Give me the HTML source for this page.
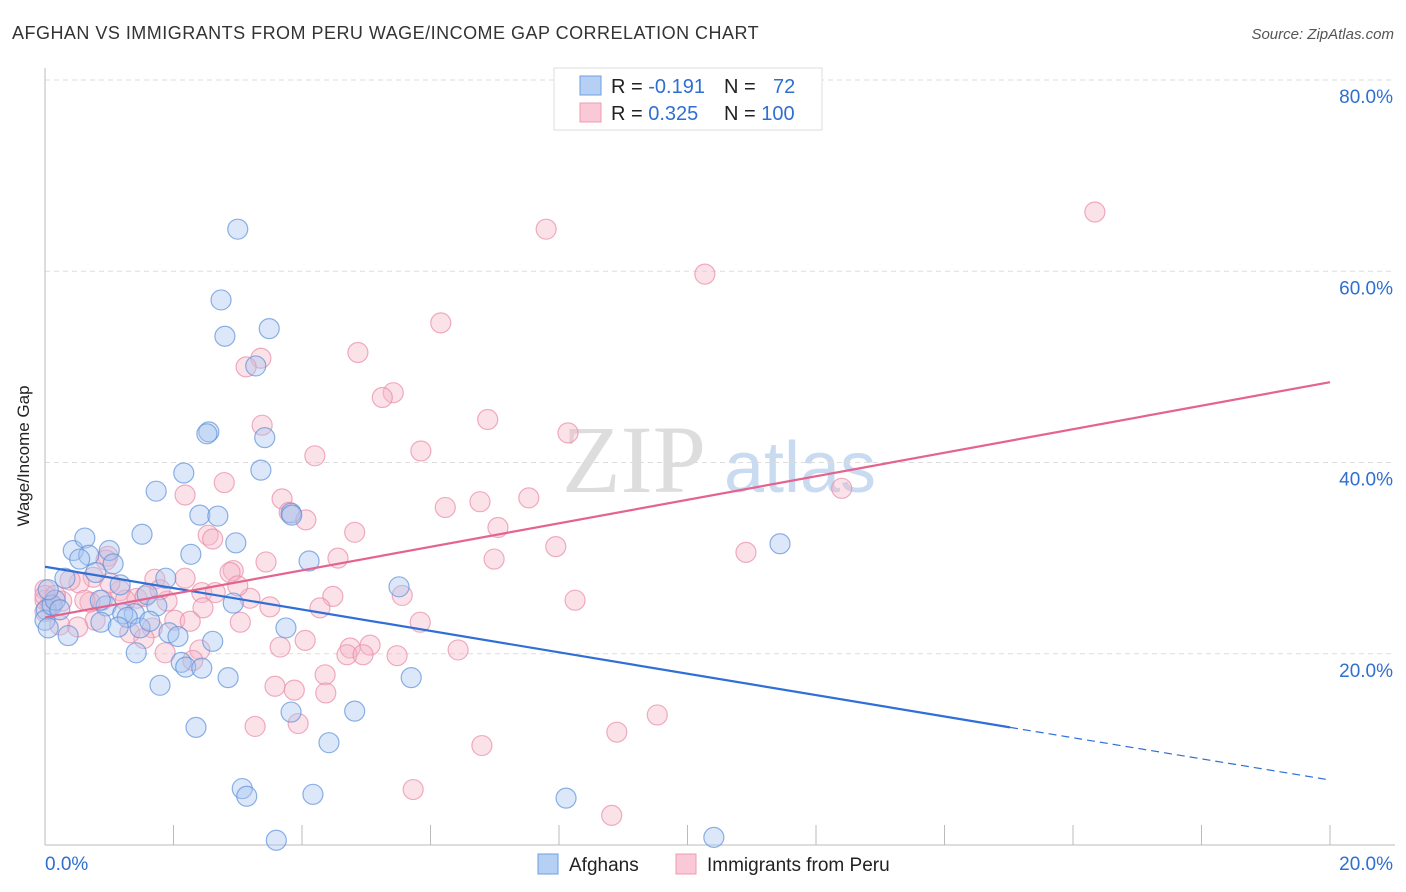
<!DOCTYPE html>
<html><head><meta charset="utf-8"><style>
body{margin:0;background:#fff;font-family:"Liberation Sans",sans-serif;}
svg{display:block}
</style></head><body>
<svg id="chart" width="1406" height="892">
<text x="12" y="39" font-size="18" fill="#333" letter-spacing="0.48">AFGHAN VS IMMIGRANTS FROM PERU WAGE/INCOME GAP CORRELATION CHART</text>
<text x="1394" y="39" font-size="15" fill="#555" font-style="italic" text-anchor="end">Source: ZipAtlas.com</text>
<text x="29" y="456" font-size="17" fill="#222" text-anchor="middle" transform="rotate(-90 29 456)">Wage/Income Gap</text>
<g><text x="634" y="492" font-size="96" font-family="Liberation Serif,serif" fill="#ddd" text-anchor="middle">ZIP</text><text x="800" y="492" font-size="72" fill="#c9dbf0" text-anchor="middle">atlas</text></g>
<g id="grid"></g><g id="axes"></g><g id="pts"></g><g id="trends"></g>
<g>
<rect x="554" y="68" width="268" height="62" fill="#fff" stroke="#ddd"/>
<rect x="580" y="76" width="21" height="19" fill="#b6d0f3" stroke="#6e9fe0"/>
<rect x="580" y="103" width="21" height="19" fill="#f9c9d7" stroke="#ee9bb3"/>
<text x="611" y="93" font-size="20" fill="#222">R = <tspan fill="#2f6fd0">-0.191</tspan></text>
<text x="724" y="93" font-size="20" fill="#222">N = <tspan fill="#2f6fd0" x="773">72</tspan></text>
<text x="611" y="120" font-size="20" fill="#222">R = <tspan fill="#2f6fd0"> 0.325</tspan></text>
<text x="724" y="120" font-size="20" fill="#222">N = <tspan fill="#2f6fd0">100</tspan></text>
</g>
<g>
<rect x="538" y="854" width="20" height="20" fill="#b6d0f3" stroke="#6e9fe0"/>
<text x="569" y="871" font-size="19" fill="#222">Afghans</text>
<rect x="676" y="854" width="20" height="20" fill="#f9c9d7" stroke="#ee9bb3"/>
<text x="707" y="871" font-size="19" fill="#222">Immigrants from Peru</text>
</g>
</svg>
<script>
const xTicks=[0,2,4,6,8,10,12,14,16,18,20];
const yTicks=[20,40,60,80];
const xLabels=["0.0%","20.0%"];
const blueX=[3.00,2.74,2.80,3.49,3.28,2.55,2.52,3.42,2.16,3.36,1.73,1.51,2.41,2.69,2.97,3.83,3.84,4.11,2.27,0.44,0.62,0.68,1.00,0.54,1.06,0.31,0.79,1.17,1.88,1.59,1.74,0.95,1.39,1.21,1.28,2.93,5.51,0.02,0,0.11,0.36,0.87,1.14,1.48,1.63,1.93,2.07,2.61,1.42,2.12,2.19,2.44,3.75,1.79,2.85,5.70,2.35,3.83,4.82,4.42,3.07,3.14,4.17,8.11,3.60,10.41,11.44,0.05,0.16,0.05,0.86,0.23];
const blueY=[64.4,57.0,53.2,54.0,50.1,43.2,43.0,42.6,38.9,39.2,37.0,32.5,34.5,34.4,31.6,34.7,34.5,29.7,30.4,30.8,32.1,30.3,30.8,29.9,29.4,27.9,28.5,27.2,27.9,26.2,25.0,25.0,24.2,24.2,23.8,25.3,27.0,24.6,23.5,25.1,21.9,23.3,22.8,22.7,23.4,22.2,21.8,21.3,20.1,19.1,18.6,18.5,22.7,16.7,17.5,17.5,12.3,13.9,14.0,10.7,5.9,5.1,5.3,4.9,0.5,0.8,31.5,22.7,25.6,26.7,25.6,24.6];
const pinkX=[16.34,7.80,10.27,6.16,4.87,3.36,3.13,5.42,5.25,3.38,6.89,8.14,5.85,4.20,12.40,2.18,2.79,3.69,7.53,6.77,6.23,3.80,4.06,2.54,2.61,4.82,7.05,7.95,10.91,6.99,4.56,3.44,2.93,2.88,2.18,1.71,0.98,0.95,0.75,0.53,0.39,0.0,0.0,0.08,0.26,1.17,1.43,0.89,0.70,1.56,1.90,2.44,2.65,3.19,3.00,4.48,5.56,8.25,2.46,3.50,4.28,2.02,3.04,1.67,1.32,0.78,0.23,1.25,2.26,4.05,3.66,4.75,5.06,5.48,6.43,4.70,4.95,1.87,2.41,5.84,2.30,3.58,3.88,4.36,4.37,3.94,3.27,6.80,8.90,9.53,5.73,8.82,0.51,0.0,1.01,1.54,1.79,0.62,0.0,0.16];
const pinkY=[66.2,64.4,59.7,54.6,51.5,50.9,50.0,47.3,46.8,43.9,44.5,43.1,41.2,40.7,37.3,36.6,37.9,36.2,36.3,35.9,35.3,34.8,34.0,32.4,32.0,32.7,33.2,31.2,30.6,29.9,30.0,29.6,28.7,28.5,27.9,27.8,30.2,29.8,28.0,27.4,27.7,26.7,25.6,25.1,25.5,26.6,25.8,25.6,25.4,26.0,25.5,26.4,26.4,25.8,27.1,26.0,26.1,25.6,24.8,24.9,24.8,23.5,23.3,22.7,22.2,23.5,23.0,25.6,23.4,21.4,20.7,20.6,20.9,19.8,20.4,19.9,19.9,20.1,20.4,23.3,19.3,16.6,16.2,17.8,15.9,12.7,12.4,10.4,11.8,13.6,5.8,3.1,22.8,24.4,27.4,21.6,26.7,25.6,26.1,26.1];
const blueTrend=[29.1,12.3,6.8];
const blueTrendX=[0,15.02,20];
const pinkTrend=[23.8,48.4];
const pinkTrendX=[0,20];
const X=v=>45+v/20*1285, Y=v=>845-v/80*765;
const NS="http://www.w3.org/2000/svg";
function mk(tag,attrs,parent){const e=document.createElementNS(NS,tag);for(const k in attrs)e.setAttribute(k,attrs[k]);parent.appendChild(e);return e;}
const grid=document.getElementById('grid'),axes=document.getElementById('axes'),pts=document.getElementById('pts'),tr=document.getElementById('trends');
yTicks.forEach(t=>{
 const l=mk('line',{x1:45,x2:1395,y1:Y(t),y2:Y(t),stroke:'#ddd','stroke-dasharray':'5,4'},grid);
 
 
 const tx=mk('text',{x:1393,y:Y(t)+23,'font-size':19,fill:'#2f6fd0','text-anchor':'end'},axes);
 tx.textContent=t.toFixed(1)+'%';
 
 
});
const ax=mk('line',{x1:45,x2:45,y1:68,y2:845,stroke:'#bbb'},axes);


const bx=mk('line',{x1:45,x2:1395,y1:845,y2:845,stroke:'#bbb'},axes);


xTicks.forEach(t=>{
 const l=mk('line',{x1:X(t),x2:X(t),y1:825,y2:845,stroke:'#bbb'},axes);
 
 
});
[[0,xLabels[0],'start',45],[20,xLabels[1],'end',1393]].forEach(a=>{
 const tx=mk('text',{x:a[3],y:870,'font-size':19,fill:'#2f6fd0','text-anchor':a[2]},axes);
 tx.textContent=a[1];
 
 
});
function dots(xs,ys,fill,stroke,name){
 xs.forEach((x,i)=>{
  const c=mk('circle',{cx:X(x),cy:Y(ys[i]),r:10,fill:fill,'fill-opacity':0.4,stroke:stroke,'stroke-opacity':0.7,'stroke-width':1.2},pts);
  
  
 });
}
dots(pinkX,pinkY,'#f6b6c8','#ea8aa6','peru');
dots(blueX,blueY,'#a8c6ef','#5c90da','afghan');
const bl=mk('line',{x1:X(blueTrendX[0]),y1:Y(blueTrend[0]),x2:X(blueTrendX[1]),y2:Y(blueTrend[1]),stroke:'#2f6fd6','stroke-width':2.2},tr);


const bd=mk('line',{x1:X(blueTrendX[1]),y1:Y(blueTrend[1]),x2:X(blueTrendX[2]),y2:Y(blueTrend[2]),stroke:'#2f6fd6','stroke-width':1.2,'stroke-dasharray':'8,5'},tr);


const pl=mk('line',{x1:X(pinkTrendX[0]),y1:Y(pinkTrend[0]),x2:X(pinkTrendX[1]),y2:Y(pinkTrend[1]),stroke:'#e4638f','stroke-width':2.2},tr);


</script>
</body></html>
